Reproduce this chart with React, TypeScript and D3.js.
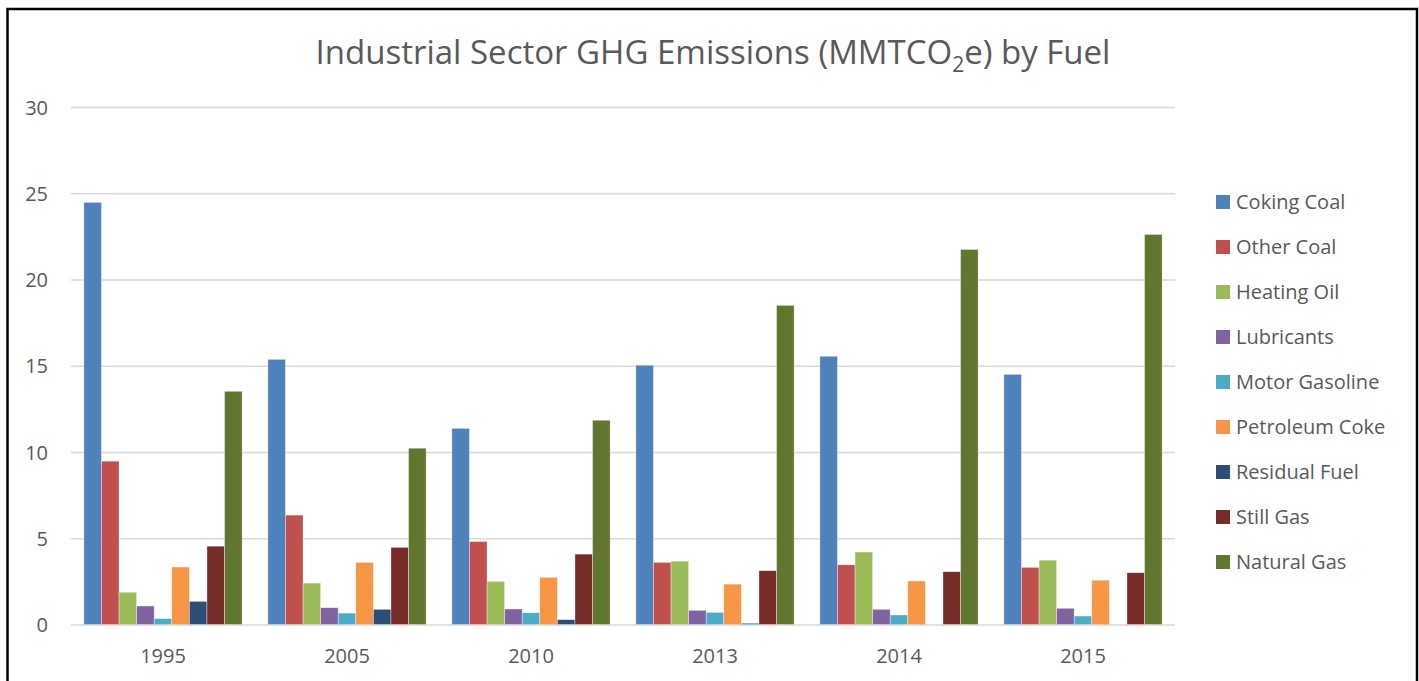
import React from "react";
import * as d3 from "d3";

const years = ["1995", "2005", "2010", "2013", "2014", "2015"];
const fuels = [
  "Coking Coal",
  "Other Coal",
  "Heating Oil",
  "Lubricants",
  "Motor Gasoline",
  "Petroleum Coke",
  "Residual Fuel",
  "Still Gas",
  "Natural Gas",
];
const colors = ["#4F81BD", "#C0504D", "#9BBB59", "#8064A2", "#4BACC6", "#F79646", "#2C4D75", "#772C2A", "#61762F"];

const cokingCoal = [24.5, 15.4, 11.4, 15.06, 15.58, 14.53];
const otherCoal = [9.5, 6.37, 4.84, 3.63, 3.49, 3.34];
const heatingOil = [1.9, 2.43, 2.53, 3.7, 4.23, 3.76];
const lubricants = [1.1, 1.0, 0.93, 0.85, 0.91, 0.97];
const motorGasoline = [0.37, 0.69, 0.71, 0.73, 0.58, 0.52];
const petroleumCoke = [3.36, 3.63, 2.76, 2.37, 2.55, 2.6];
const residualFuel = [1.37, 0.91, 0.31, 0.1, 0, 0];
const stillGas = [4.57, 4.5, 4.11, 3.15, 3.09, 3.03];
const naturalGas = [13.55, 10.25, 11.87, 18.53, 21.77, 22.64];

const seriesValues = [
  cokingCoal,
  otherCoal,
  heatingOil,
  lubricants,
  motorGasoline,
  petroleumCoke,
  residualFuel,
  stillGas,
  naturalGas,
];
const yTicks = [0, 5, 10, 15, 20, 25, 30];

const W = 1419;
const H = 681;
const FONT = "'Open Sans', sans-serif";
const TEXT = "#595959";

export default function App() {
  const plotLeft = 71;
  const plotRight = 1175;
  const plotTop = 107.5;
  const plotBottom = 625;

  const x0 = d3.scaleBand<string>().domain(years).range([plotLeft, plotRight]).paddingInner(0.14).paddingOuter(0.07);
  const x1 = d3.scaleBand<string>().domain(fuels).range([0, x0.bandwidth()]).padding(0);
  const y = d3.scaleLinear().domain([0, 30]).range([plotBottom, plotTop]);

  return (
    <svg
      width={W}
      height={H}
      style={{ position: "absolute", left: 0, top: 0, background: "#fff" }}
      fontFamily={FONT}
    >
      <rect x={7.5} y={9} width={1409.5} height={H} fill="#fff" stroke="#000" strokeWidth={2.5} />
      <text x={713} y={64} textAnchor="middle" fontSize={33} fill={TEXT}>
        Industrial Sector GHG Emissions (MMTCO
        <tspan fontSize={21} dy={8}>2</tspan>
        <tspan dy={-8}>e) by Fuel</tspan>
      </text>
      {yTicks.map((t) => (
        <g key={t}>
          {t !== 0 && (
            <line x1={plotLeft} x2={plotRight} y1={y(t)} y2={y(t)} stroke="#d9d9d9" strokeWidth={1.5} />
          )}
          <text x={48} y={y(t)} dy="0.35em" textAnchor="end" fontSize={20} fill={TEXT}>
            {t}
          </text>
        </g>
      ))}
      {years.map((yr, i) => (
        <g key={yr} transform={`translate(${x0(yr)},0)`}>
          {fuels.map((f, j) => {
            const v = seriesValues[j][i];
            if (v <= 0) return null;
            return (
              <rect
                key={f}
                x={x1(f)}
                y={y(v)}
                width={x1.bandwidth()}
                height={y(0) - y(v)}
                fill={colors[j]}
                stroke="#fff"
                strokeOpacity={0.6}
                strokeWidth={0.6}
              />
            );
          })}
        </g>
      ))}
      <line x1={plotLeft} x2={plotRight} y1={plotBottom} y2={plotBottom} stroke="#d9d9d9" strokeWidth={1.5} />
      {years.map((yr) => (
        <text
          key={yr}
          x={(x0(yr) as number) + x0.bandwidth() / 2}
          y={656}
          dy="0.35em"
          textAnchor="middle"
          fontSize={20}
          fill={TEXT}
        >
          {yr}
        </text>
      ))}
      {fuels.map((f, j) => (
        <g key={f} transform={`translate(1216,${202 + j * 45})`}>
          <rect x={0} y={-7} width={14} height={14} fill={colors[j]} />
          <text x={20} y={0} dy="0.35em" fontSize={20} fill={TEXT}>
            {f}
          </text>
        </g>
      ))}
    </svg>
  );
}
